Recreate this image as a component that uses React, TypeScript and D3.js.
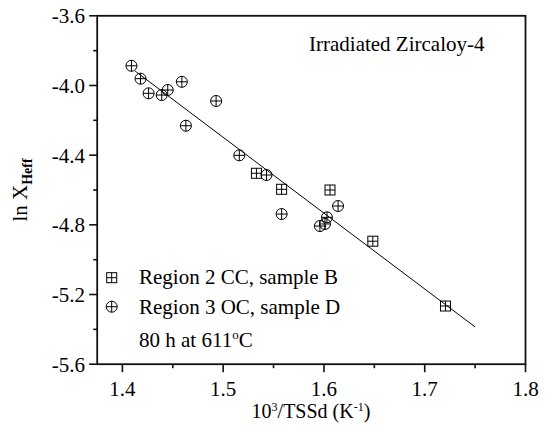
import React from "react";
import * as d3 from "d3";

const regionB_x = [1.533, 1.558, 1.606, 1.6485, 1.7206];
const regionB_y = [-4.504, -4.596, -4.6, -4.894, -5.266];

const regionD_x = [1.409, 1.418, 1.426, 1.439, 1.445, 1.459, 1.463, 1.493, 1.516, 1.543, 1.558, 1.596, 1.601, 1.603, 1.614];
const regionD_y = [-3.887, -3.961, -4.045, -4.055, -4.026, -3.979, -4.231, -4.089, -4.401, -4.514, -4.738, -4.807, -4.795, -4.757, -4.692];

const fitX = [1.4126, 1.75];
const fitY = [-3.917, -5.386];

const xTicks = [1.4, 1.5, 1.6, 1.7, 1.8];
const xMinor = [1.45, 1.55, 1.65, 1.75];
const yTicks = [-3.6, -4.0, -4.4, -4.8, -5.2, -5.6];
const yMinor = [-3.8, -4.2, -4.6, -5.0, -5.4];

const W = 545, H = 432;
const L = 97.2, R = 525.5, T = 15.8, B = 364.2;
const FONT = "'Liberation Serif', 'Times New Roman', serif";

export default function App() {
  const x = d3.scaleLinear().domain([1.375, 1.8]).range([L, R]);
  const y = d3.scaleLinear().domain([-3.6, -5.6]).range([T, B]);
  const line = d3.line<number>().x((_, i) => x(fitX[i])).y((d) => y(d));
  const axisColor = "#111";

  const square = (cx: number, cy: number, s: number, key: string) => (
    <g key={key} stroke="#000" strokeWidth={1} fill="none">
      <rect x={cx - s / 2} y={cy - s / 2} width={s} height={s} />
      <line x1={cx - s / 2} x2={cx + s / 2} y1={cy} y2={cy} />
      <line x1={cx} x2={cx} y1={cy - s / 2} y2={cy + s / 2} />
    </g>
  );
  const circle = (cx: number, cy: number, r: number, key: string) => (
    <g key={key} stroke="#000" strokeWidth={1} fill="none">
      <circle cx={cx} cy={cy} r={r} />
      <line x1={cx - r} x2={cx + r} y1={cy} y2={cy} />
      <line x1={cx} x2={cx} y1={cy - r} y2={cy + r} />
    </g>
  );

  return (
    <svg width={W} height={H} style={{ position: "absolute", left: 0, top: 0, background: "#fff", fontFamily: FONT }}>
      {/* frame */}
      <rect x={L} y={T} width={R - L} height={B - T} fill="none" stroke={axisColor} strokeWidth={1.8} />
      {/* x ticks */}
      {xTicks.map((t) => (
        <g key={"xt" + t}>
          <line x1={x(t)} x2={x(t)} y1={B} y2={B + 8} stroke={axisColor} strokeWidth={1.6} />
          <text x={x(t)} y={396} textAnchor="middle" fontSize={21}>{t.toFixed(1)}</text>
        </g>
      ))}
      {xMinor.map((t) => (
        <line key={"xm" + t} x1={x(t)} x2={x(t)} y1={B} y2={B + 4} stroke={axisColor} strokeWidth={1.6} />
      ))}
      {/* y ticks */}
      {yTicks.map((t) => (
        <g key={"yt" + t}>
          <line x1={L - 8} x2={L} y1={y(t)} y2={y(t)} stroke={axisColor} strokeWidth={1.6} />
          <text x={85} y={y(t)} dy="0.35em" textAnchor="end" fontSize={21}>{t.toFixed(1)}</text>
        </g>
      ))}
      {yMinor.map((t) => (
        <line key={"ym" + t} x1={L - 4} x2={L} y1={y(t)} y2={y(t)} stroke={axisColor} strokeWidth={1.6} />
      ))}
      {/* fit line */}
      <path d={line(fitY) || ""} fill="none" stroke="#000" strokeWidth={1} />
      {/* data */}
      {regionD_x.map((v, i) => circle(x(v), y(regionD_y[i]), 5.5, "d" + i))}
      {regionB_x.map((v, i) => square(x(v), y(regionB_y[i]), 10, "b" + i))}
      {/* annotation */}
      <text x={309} y={51} fontSize={21}>Irradiated Zircaloy-4</text>
      {/* legend */}
      {square(111.7, 277.7, 10, "lb")}
      {circle(111.7, 306.7, 5.5, "ld")}
      <text x={139} y={284} fontSize={21}>Region 2 CC, sample B</text>
      <text x={139} y={313.5} fontSize={21}>Region 3 OC, sample D</text>
      <text x={139} y={347} fontSize={21}>
        80 h at 611<tspan dy={-8} fontSize={13}>o</tspan><tspan dy={8}>C</tspan>
      </text>
      {/* axis titles */}
      <text x={311} y={418} textAnchor="middle" fontSize={20}>
        10<tspan dy={-7} fontSize={12}>3</tspan><tspan dy={7}>/TSSd (K</tspan><tspan dy={-7} fontSize={12}>-1</tspan><tspan dy={7}>)</tspan>
      </text>
      <text transform="translate(27,190) rotate(-90)" textAnchor="middle" fontSize={21}>
        ln X<tspan dy={5} fontSize={14} fontWeight="bold">Heff</tspan>
      </text>
    </svg>
  );
}
